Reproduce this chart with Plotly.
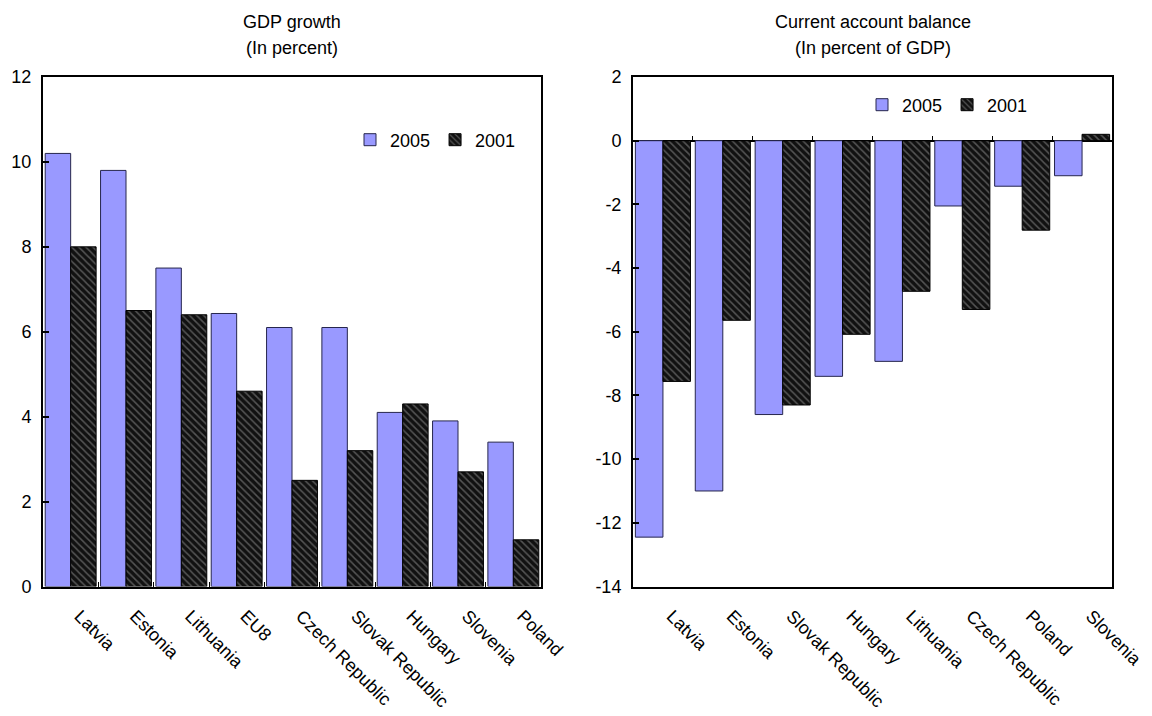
import plotly.graph_objects as go

# GDP growth, in percent
gdp_countries = ["Latvia", "Estonia", "Lithuania", "EU8", "Czech Republic",
                 "Slovak Republic", "Hungary", "Slovenia", "Poland"]
gdp_2005 = [10.2, 9.8, 7.5, 6.43, 6.1, 6.1, 4.1, 3.9, 3.4]
gdp_2001 = [8.0, 6.5, 6.4, 4.6, 2.5, 3.2, 4.3, 2.7, 1.1]

# Current account balance, in percent of GDP
ca_countries = ["Latvia", "Estonia", "Slovak Republic", "Hungary", "Lithuania",
                "Czech Republic", "Poland", "Slovenia"]
ca_2005 = [-12.45, -11.0, -8.6, -7.4, -6.93, -2.05, -1.43, -1.1]
ca_2001 = [-7.56, -5.64, -8.3, -6.08, -4.73, -5.3, -2.81, 0.2]

# y-axis ticks of the balance panel (plain hyphen for negatives)
ca_ticks = [2, 0, -2, -4, -6, -8, -10, -12, -14]
ca_ticklabels = ["2", "0", "-2", "-4", "-6", "-8", "-10", "-12", "-14"]

W, H = 1152, 716
FONT = "Liberation Sans, Arial, sans-serif"
FS = 18
BLUE = "#9999FF"
BLUE_EDGE = "#26264d"
DARK = "#111111"

# panel frames in pixels
LX0, LX1 = 43, 541
RX0, RX1 = 633, 1112
Y_TOP, Y_BOT = 77, 586.5

def xd(a, b):
    return [a / W, b / W]

yd = [1 - Y_BOT / H, 1 - Y_TOP / H]

def bar_2005(x, y, xa, ya, leg):
    return go.Bar(x=x, y=y, name="2005", xaxis=xa, yaxis=ya, legend=leg,
                  marker=dict(color=BLUE, line=dict(color=BLUE_EDGE, width=1)))

def bar_2001(x, y, xa, ya, leg):
    return go.Bar(x=x, y=y, name="2001", xaxis=xa, yaxis=ya, legend=leg,
                  marker=dict(color=DARK, line=dict(color="#000000", width=1),
                              pattern=dict(shape="\\", fgcolor="#555555",
                                           bgcolor=DARK, size=5, solidity=0.3,
                                           fillmode="replace")))

fig = go.Figure()
fig.add_trace(bar_2005(gdp_countries, gdp_2005, "x", "y", "legend"))
fig.add_trace(bar_2001(gdp_countries, gdp_2001, "x", "y", "legend"))
fig.add_trace(bar_2005(ca_countries, ca_2005, "x2", "y2", "legend2"))
fig.add_trace(bar_2001(ca_countries, ca_2001, "x2", "y2", "legend2"))

tickfont = dict(family=FONT, size=FS, color="#000000")

xcommon = dict(showline=True, linecolor="#000000", linewidth=2, mirror=True,
               tickangle=45, tickfont=tickfont, automargin=False,
               ticklabelstandoff=10, ticklabelshift=9,
               showgrid=False, zeroline=False, fixedrange=True)
ycommon = dict(showline=True, linecolor="#000000", linewidth=2, mirror=True,
               ticks="inside", ticklen=6, tickcolor="#000000", tickwidth=1.5,
               tickfont=tickfont, showgrid=False, automargin=False,
               ticklabelstandoff=6, fixedrange=True)

# position of the zero line within the right panel, as a paper fraction
zero_frac = yd[0] + (0 - (-14)) / 16 * (yd[1] - yd[0])

fig.update_layout(
    width=W, height=H,
    margin=dict(l=0, r=0, t=0, b=0, autoexpand=False),
    paper_bgcolor="white", plot_bgcolor="white",
    barmode="group", bargap=0.08, bargroupgap=0,
    font=dict(family=FONT, size=FS, color="#000000"),
    xaxis=dict(domain=xd(LX0, LX1), anchor="y", ticks="inside", ticklen=5,
               tickcolor="#000000", tickwidth=1, tickson="boundaries",
               **xcommon),
    yaxis=dict(domain=yd, anchor="x", range=[0, 12], dtick=2, zeroline=False,
               **ycommon),
    xaxis2=dict(domain=xd(RX0, RX1), anchor="y2", ticks="", **xcommon),
    yaxis2=dict(domain=yd, anchor="x2", range=[-14, 2], tickmode="array",
                tickvals=ca_ticks, ticktext=ca_ticklabels, zeroline=True,
                zerolinecolor="#000000", zerolinewidth=1.5, **ycommon),
    # category ticks sitting on the zero line of the right panel
    xaxis3=dict(domain=xd(RX0, RX1), overlaying="x2", matches="x2",
                anchor="free", position=zero_frac, side="bottom",
                showline=False, ticks="inside", ticklen=5, tickcolor="#000000",
                tickwidth=1, tickson="boundaries", showticklabels=False,
                showgrid=False, zeroline=False, fixedrange=True,
                automargin=False),
    legend=dict(orientation="h", x=350 / W, y=1 - 140 / H, xanchor="left",
                yanchor="middle", font=dict(family=FONT, size=FS),
                bgcolor="rgba(0,0,0,0)", itemwidth=30, tracegroupgap=0,
                traceorder="normal"),
    legend2=dict(orientation="h", x=862 / W, y=1 - 105 / H, xanchor="left",
                 yanchor="middle", font=dict(family=FONT, size=FS),
                 bgcolor="rgba(0,0,0,0)", itemwidth=30, tracegroupgap=0,
                 traceorder="normal"),
    showlegend=True,
)

# invisible trace that makes the zero-line tick axis render
fig.add_trace(go.Bar(x=ca_countries, y=[None] * len(ca_countries), xaxis="x3",
                     yaxis="y2", showlegend=False, hoverinfo="skip"))

titles = [
    ((LX0 + LX1) / 2, "GDP growth", "(In percent)"),
    ((RX0 + RX1) / 2, "Current account balance", "(In percent of GDP)"),
]
for cx, line1, line2 in titles:
    for text, cy in ((line1, 22), (line2, 48)):
        fig.add_annotation(text=text, xref="paper", yref="paper",
                           x=cx / W, y=1 - cy / H, xanchor="center",
                           yanchor="middle", showarrow=False,
                           font=dict(family=FONT, size=FS, color="#000000"))

fig.write_html("out.html")
